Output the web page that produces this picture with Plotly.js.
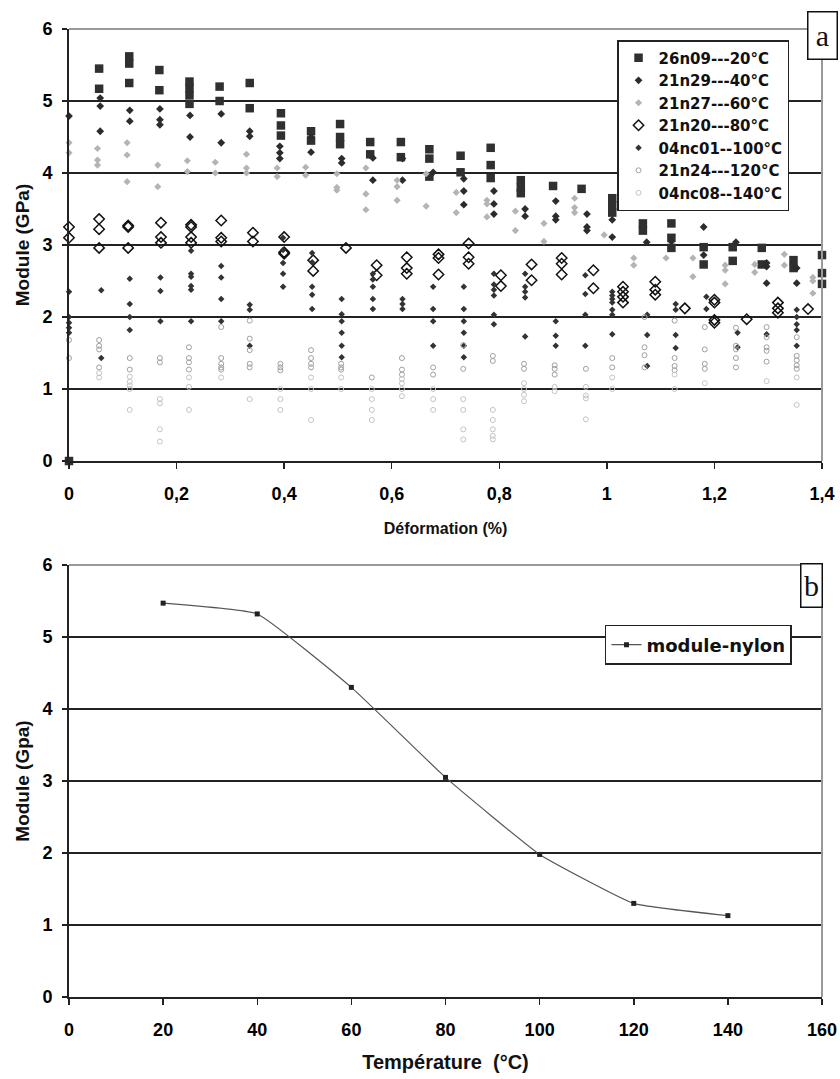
<!DOCTYPE html>
<html>
<head>
<meta charset="utf-8">
<script src="https://cdn.plot.ly/plotly-3.0.1.min.js"></script>
<style>
html,body{margin:0;padding:0;background:#fff;}
#chart{width:840px;height:1079px;}
</style>
</head>
<body>
<div id="chart"></div>
<script>
// ---- Chart (a): modulus vs deformation, one array of [x, [y values]] columns per series
const seriesNames = ["26n09---20°C","21n29---40°C","21n27---60°C","21n20---80°C","04nc01--100°C","21n24---120°C","04nc08--140°C"];

const s20 = [[0,[0]],[0.056,[5.45,5.17]],[0.112,[5.62,5.52,5.25]],[0.168,[5.43,5.15]],
  [0.224,[5.27,5.18,5.08,4.96]],[0.28,[5.2,5.0]],[0.336,[5.25,4.9]],[0.394,[4.83,4.66,4.52]],
  [0.45,[4.58,4.45]],[0.504,[4.68,4.5,4.4]],[0.56,[4.43,4.26]],[0.617,[4.43,4.22]],
  [0.67,[4.33,4.2,3.95]],[0.728,[4.24,4.01]],[0.784,[4.35,4.11,3.93]],[0.84,[3.9,3.8,3.72]],
  [0.9,[3.82]],[0.953,[3.78]],[1.01,[3.65,3.55,3.45]],[1.067,[3.3,3.2]],[1.12,[3.3,3.1,2.96]],
  [1.18,[2.97,2.73]],[1.234,[2.97,2.78]],[1.288,[2.96,2.73]],[1.347,[2.79,2.68]],[1.4,[2.86,2.61,2.46]]];

const s40 = [[0,[4.79]],[0.058,[5.04,4.93,4.58]],[0.113,[4.87,4.72]],[0.169,[4.89,4.74,4.67]],
  [0.225,[4.8,4.5]],[0.283,[4.82,4.42]],[0.336,[4.58,4.51]],[0.392,[4.37,4.28,4.2]],
  [0.45,[4.5,4.29]],[0.507,[4.2,4.14]],[0.565,[4.21,3.9]],[0.62,[4.2,3.9]],[0.677,[4.01]],
  [0.734,[3.92,3.75,3.56]],[0.79,[3.75,3.57,3.43]],[0.848,[3.5,3.4]],[0.905,[3.61,3.4,3.35]],
  [0.963,[3.43,3.25,3.2]],[1.01,[3.35,3.11]],[1.074,[3.04]],[1.12,[3.05]],[1.18,[3.25,2.86]],
  [1.24,[3.04]],[1.297,[2.75,2.7,2.47]],[1.353,[2.68,2.47]]];

const s60 = [[0,[4.42,4.28]],[0.053,[4.34,4.18,4.11]],[0.108,[4.42,4.25,3.88]],[0.165,[4.11,3.81]],
  [0.22,[4.17,4.02]],[0.272,[4.15,4.0]],[0.33,[4.26,4.07,4.0]],[0.387,[4.07,3.95]],
  [0.44,[4.08,3.97]],[0.498,[3.99,3.8,3.76]],[0.552,[4.07,3.71,3.49]],[0.61,[3.9,3.81,3.62]],
  [0.664,[3.99,3.54]],[0.72,[3.73,3.45]],[0.777,[3.62,3.57,3.39]],[0.83,[3.47,3.2]],
  [0.883,[3.3,3.05]],[0.94,[3.65,3.52,3.45]],[0.995,[3.14]],[1.05,[2.82,2.72]],[1.11,[2.82]],
  [1.16,[2.82,2.56]],[1.22,[2.72,2.65,2.46]],[1.275,[2.73,2.62]],[1.33,[2.87,2.72]],[1.383,[2.55,2.5,2.33]]];

const s80 = [[0,[3.25,3.1]],[0.056,[3.36,3.22,2.96]],[0.11,[3.27,3.25,2.96]],[0.171,[3.31,3.11,3.03]],
  [0.227,[3.28,3.25,3.11,3.03]],[0.283,[3.34,3.1,3.05]],[0.342,[3.17,3.05]],[0.4,[3.11,2.9,2.88]],
  [0.454,[2.79,2.64]],[0.515,[2.96]],[0.572,[2.72,2.58]],[0.628,[2.83,2.68,2.6]],
  [0.687,[2.87,2.82,2.59]],[0.743,[3.02,2.83,2.74]],[0.803,[2.58,2.43]],[0.86,[2.73,2.51]],
  [0.916,[2.82,2.74,2.59]],[0.975,[2.65,2.4]],[1.03,[2.42,2.35,2.28,2.2]],[1.09,[2.49,2.38,2.31]],
  [1.145,[2.12]],[1.2,[2.24,2.2,1.96,1.92]],[1.26,[1.97]],[1.318,[2.2,2.12,2.06]],[1.374,[2.11]]];

const s100 = [[0,[2.35,2.0,1.92,1.85,1.78]],[0.06,[2.37,1.43]],[0.113,[2.53,2.18,2.0,1.82]],
  [0.17,[2.55,2.36,1.94]],[0.227,[2.92,2.6,2.56,2.43,2.38,1.94]],[0.283,[2.71,2.55,2.25,1.94]],
  [0.336,[2.17,2.1,1.6]],[0.398,[3.1,2.93,2.75,2.6,2.42]],[0.452,[2.89,2.76,2.42,2.31,2.11]],
  [0.507,[2.25,2.04,1.94,1.78,1.6,1.44]],[0.565,[2.6,2.52,2.42,2.25,2.11]],[0.62,[2.25,2.18,2.11]],
  [0.677,[2.42,2.11,1.94,1.6]],[0.734,[2.42,2.11,1.94,1.78,1.6,1.44]],[0.79,[2.6,2.45,2.38,2.3,2.03,1.9]],
  [0.848,[2.6,2.42,2.35,2.27,1.73]],[0.905,[1.94,1.74,1.6]],[0.96,[2.58,2.32,2.03,1.6]],
  [1.01,[2.35,2.3,2.25,2.2,2.1,2.03,1.76]],[1.075,[2.03,1.75,1.32]],[1.128,[2.18,2.1,1.75,1.57]],
  [1.185,[2.28,2.11]],[1.243,[1.78,1.58]],[1.297,[1.76]],[1.353,[2.1,2.0,1.9,1.82,1.6]]];

const s120 = [[0,[1.68,1.43]],[0.056,[1.68,1.6,1.55,1.3]],[0.113,[1.43,1.27]],[0.169,[1.43,1.37]],
  [0.223,[1.58,1.43,1.37,1.27]],[0.283,[1.86,1.43,1.35,1.3,1.27]],[0.336,[1.95,1.7,1.54,1.35,1.3]],
  [0.393,[1.35,1.3,1.26]],[0.45,[1.54,1.43,1.35,1.3]],[0.506,[1.35,1.3,1.27]],[0.563,[1.16]],
  [0.619,[1.43,1.27,1.2]],[0.677,[1.3,1.2]],[0.733,[1.61,1.28]],[0.788,[1.46,1.39]],
  [0.846,[1.35,1.28]],[0.903,[1.33,1.28,1.2]],[0.961,[1.28]],[1.01,[1.43,1.3]],
  [1.07,[2.0,1.58,1.47,1.3]],[1.126,[1.95,1.43,1.32,1.26]],[1.182,[1.86,1.55,1.35,1.28]],
  [1.24,[1.85,1.6,1.55,1.43,1.3]],[1.297,[1.86,1.72,1.58,1.53,1.38]],[1.353,[1.72,1.46,1.4,1.33,1.28]]];

const s140 = [[0.056,[1.22,1.16]],[0.113,[1.17,1.1,1.05,1.0,0.71]],[0.169,[0.86,0.8,0.44,0.27]],
  [0.223,[1.16,1.03,0.71]],[0.283,[1.16]],[0.336,[0.86]],[0.393,[1.0,0.86,0.71]],
  [0.45,[1.16,1.0,0.57]],[0.506,[1.16,1.0]],[0.563,[1.0,0.86,0.71,0.57]],[0.619,[1.14,1.08,1.0,0.9]],
  [0.677,[1.0,0.86,0.71]],[0.733,[0.86,0.71,0.44,0.3]],[0.788,[0.71,0.57,0.44,0.35,0.3]],
  [0.846,[1.08,1.0,0.92,0.83]],[0.903,[1.03,0.97]],[0.961,[1.03,0.91,0.87,0.58]],[1.01,[1.16,1.0]],
  [1.126,[1.2,1.0]],[1.182,[1.08]],[1.297,[1.11]],[1.353,[1.16,0.78]]];

// ---- Chart (b): modulus vs temperature
const temperatures = [20,40,60,80,100,120,140];
const moduleNylon = [5.47,5.32,4.3,3.05,1.98,1.3,1.13];
const xTicksA = [0,0.2,0.4,0.6,0.8,1,1.2,1.4];
const xTicksB = [0,20,40,60,80,100,120,140,160];
const yTicks = [0,1,2,3,4,5,6];

function flatten(cols){
  const xs=[],ys=[];
  cols.forEach(c=>c[1].forEach(v=>{xs.push(c[0]);ys.push(v);}));
  return {x:xs,y:ys};
}
function boldText(vals){ return vals.map(v=>'<b>'+String(v).replace('.',',')+'</b>'); }

const styles = [
  {symbol:'square', size:8.5, color:'#303030', line:{width:0}},
  {symbol:'diamond', size:6, color:'#2c2c2c', line:{width:0}},
  {symbol:'diamond', size:5.5, color:'#b4b4b4', line:{width:0}},
  {symbol:'diamond-open', size:8, color:'#111111', line:{width:1.5,color:'#111111'}},
  {symbol:'diamond', size:5, color:'#333333', line:{width:0}},
  {symbol:'circle-open', size:5, color:'#a0a0a0', line:{width:1,color:'#a0a0a0'}},
  {symbol:'circle-open', size:5, color:'#c4c4c4', line:{width:1,color:'#c4c4c4'}}
];
const allSeries = [s20,s40,s60,s80,s100,s120,s140];

const traces = allSeries.map((s,i)=>{
  const f = flatten(s);
  return {x:f.x, y:f.y, type:'scatter', mode:'markers', name:seriesNames[i],
    marker:styles[i], xaxis:'x', yaxis:'y', cliponaxis:false, legend:'legend'};
});
traces.push({x:temperatures, y:moduleNylon, type:'scatter', mode:'lines+markers', name:'module-nylon',
  line:{color:'#555555', width:1.2, shape:'spline', smoothing:0.35},
  marker:{symbol:'square', size:5, color:'#222222'}, xaxis:'x2', yaxis:'y2', legend:'legend2'});

const tickFont = {family:'Liberation Sans, Arial, sans-serif', size:18, color:'#000'};
const titleFont = {family:'Liberation Sans, Arial, sans-serif', size:19, color:'#111'};

function yax(domain, title){
  return {domain:domain, range:[0,6], tickvals:yTicks, ticktext:boldText(yTicks), showgrid:true, gridcolor:'#222', gridwidth:1.5,
    zeroline:false, showline:true, linecolor:'#222', linewidth:2, ticks:'outside', ticklen:5,
    tickcolor:'#222', tickwidth:1.5, tickfont:tickFont, ticklabelstandoff:6,
    title:{text:'<b>'+title+'</b>', font:titleFont, standoff:8}, fixedrange:true};
}

const layout = {
  width:840, height:1079,
  margin:{l:69, r:18, t:29, b:82},
  paper_bgcolor:'#fff', plot_bgcolor:'#fff',
  separators:', ',
  showlegend:true,
  xaxis:{domain:[0,1], anchor:'y', range:[0,1.4], tickvals:xTicksA, ticktext:boldText(xTicksA), showgrid:false, zeroline:false,
    showline:true, linecolor:'#222', linewidth:2, ticks:'outside', ticklen:6, tickcolor:'#222', tickwidth:1.5,
    tickfont:tickFont, ticklabelstandoff:9,
    title:{text:'<b>Déformation (%)</b>', font:{family:'Liberation Sans, Arial, sans-serif', size:16, color:'#111'}, standoff:20}},
  yaxis:yax([0.5537,1], 'Module (GPa)'),
  xaxis2:{domain:[0,1], anchor:'y2', range:[0,160], tickvals:xTicksB, ticktext:boldText(xTicksB), showgrid:false, zeroline:false,
    showline:true, linecolor:'#222', linewidth:2, ticks:'outside', ticklen:6, tickcolor:'#222', tickwidth:1.5,
    tickfont:tickFont, ticklabelstandoff:9,
    title:{text:'<b>Température  (°C)</b>', font:{family:'Liberation Sans, Arial, sans-serif', size:20, color:'#111'}, standoff:16}},
  yaxis2:yax([0,0.4463], 'Module (Gpa)'),
  legend:{x:0.7278, y:0.9886, xanchor:'left', yanchor:'top', bgcolor:'#fff', bordercolor:'#222', borderwidth:1.5,
    font:{family:'DejaVu Sans, sans-serif', size:15, color:'#111', weight:700}, tracegroupgap:0},
  legend2:{x:0.7118, y:0.3843, xanchor:'left', yanchor:'top', bgcolor:'#fff', bordercolor:'#222', borderwidth:1.5,
    font:{family:'DejaVu Sans, sans-serif', size:18, color:'#111', weight:700}},
  shapes:[
    {type:'line', xref:'x domain', yref:'y domain', x0:0, x1:1, y0:1, y1:1, line:{color:'#999', width:2}, layer:'above'},
    {type:'line', xref:'x domain', yref:'y domain', x0:1, x1:1, y0:0, y1:1, line:{color:'#999', width:2}, layer:'above'},
    {type:'line', xref:'x2 domain', yref:'y2 domain', x0:0, x1:1, y0:1, y1:1, line:{color:'#999', width:2}, layer:'above'},
    {type:'line', xref:'x2 domain', yref:'y2 domain', x0:1, x1:1, y0:0, y1:1, line:{color:'#999', width:2}, layer:'above'}
  ],
  annotations:[
    {text:'a', xref:'paper', yref:'paper', x:1.0013, y:0.9928, xanchor:'center', yanchor:'middle', showarrow:false,
     font:{family:'Liberation Serif, Times New Roman, serif', size:30, color:'#111'}, bordercolor:'#111', borderwidth:1.5,
     bgcolor:'#fff', width:26, height:44, borderpad:1},
    {text:'b', xref:'paper', yref:'paper', x:0.9854, y:0.4246, xanchor:'center', yanchor:'middle', showarrow:false,
     font:{family:'Liberation Serif, Times New Roman, serif', size:30, color:'#111'}, bordercolor:'#111', borderwidth:1.5,
     bgcolor:'#fff', width:18, height:40, borderpad:1}
  ]
};

Plotly.newPlot('chart', traces, layout, {displayModeBar:false, staticPlot:true});
</script>
</body>
</html>
